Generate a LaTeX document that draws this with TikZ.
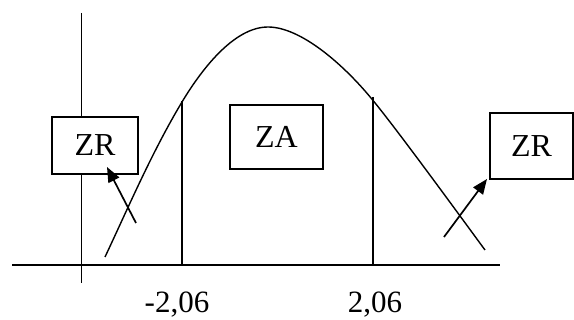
\documentclass[tikz,border=0pt]{standalone}
\usepackage{fontspec}
\setmainfont{Liberation Serif}
\usetikzlibrary{arrows.meta}
\begin{document}
\begin{tikzpicture}[x=1pt,y=-1pt,
  zone/.style={draw,line width=1.3pt,inner sep=0pt,font=\fontsize{32}{36}\selectfont},
  lbl/.style={inner sep=0pt,font=\fontsize{31}{35}\selectfont},
  ln/.style={line width=1.4pt},
  arr/.style={line width=1.7pt,-{Triangle[length=15pt,width=12pt]}}]
\useasboundingbox (0,0) rectangle (574,320);
% axes
\coordinate (yt) at (81.5,13);
\coordinate (yb) at (81.5,283);
\coordinate (xl) at (12,265);
\coordinate (xr) at (500,265);
\draw[ln] (yt) -- (yb);
\draw[ln] (xl) -- (xr);
% curve
\coordinate (k0) at (105,257);
\coordinate (k1) at (182,102);
\coordinate (k2) at (268,27);
\coordinate (k3) at (371,98);
\coordinate (k4) at (485,250);
\draw[ln] (k0) .. controls (129,206) and (152,152) .. (k1)
  .. controls (200,72) and (233,27) .. (k2)
  .. controls (300,27) and (342,63) .. (k3)
  .. controls (396,128) and (460,216) .. (k4);
% critical lines
\coordinate (c1t) at (182,101);
\coordinate (c1b) at (182,265);
\coordinate (c2t) at (373,97);
\coordinate (c2b) at (373,265);
\draw[ln] (c1t) -- (c1b);
\draw[ln] (c2t) -- (c2b);
% boxes
\node[zone,fill=white,minimum width=86pt,minimum height=57pt] (zr1) at (95,145.5) {ZR};
\node[zone,minimum width=93pt,minimum height=64pt] (za) at (276.5,137) {ZA};
\node[zone,minimum width=83pt,minimum height=66pt] (zr2) at (531.5,146) {ZR};
% arrows
\coordinate (a1s) at (136,223);
\coordinate (a1e) at (107,167);
\coordinate (a2s) at (444,237);
\coordinate (a2e) at (487,179);
\draw[arr] (a1s) -- (a1e);
\draw[arr] (a2s) -- (a2e);
% labels
\node[lbl] (l1) at (177,305) {-2,06};
\node[lbl] (l2) at (375,305) {2,06};
\end{tikzpicture}
\end{document}
